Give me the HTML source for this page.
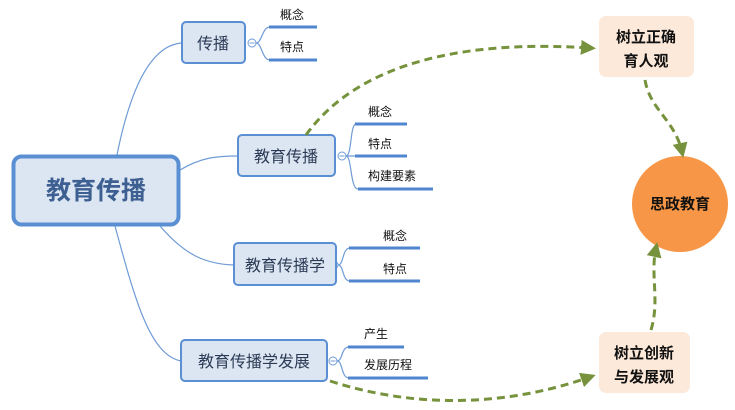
<!DOCTYPE html>
<html><head><meta charset="utf-8"><style>
body{margin:0;background:#fff;}
svg{display:block;font-family:"Liberation Sans","Noto Sans CJK SC",sans-serif;}
</style></head><body>
<svg width="735" height="410" viewBox="0 0 735 410" xmlns="http://www.w3.org/2000/svg">
<defs>
<marker id="ah" markerWidth="5" markerHeight="5" refX="3" refY="2.5" orient="auto" markerUnits="strokeWidth" viewBox="0 0 5 5">
<path d="M0,0 L5,2.5 L0,5 z" fill="#76923c"/>
</marker>
</defs>
<g fill="none" stroke="#6f9bd6" stroke-width="1.2">
<path d="M117,155 C130,90 150,45 182,43"/>
<path d="M180,170 C200,158 215,156 238,156"/>
<path d="M160,226 C185,255 205,264 234,265"/>
<path d="M115,226 C135,300 150,355 181,361"/>
<path d="M256,43 C262,43 262,27 270,27 M256,43 C262,43 262,60 270,60"/>
<path d="M346,156 C352,156 350,124 356,124 M346,156 L356,156 M346,156 C352,156 350,189 358,189"/>
<path d="M338,265 C344,265 342,248 350,248 M338,265 C344,265 342,281 350,281"/>
<path d="M337,361 C343,361 341,347 349,347 M337,361 C343,361 341,378 349,378"/>
</g>
<g stroke="#4f86cf" stroke-width="3">
<line x1="269" y1="27" x2="317" y2="27"/>
<line x1="269" y1="60" x2="317" y2="60"/>
<line x1="355" y1="124" x2="407" y2="124"/>
<line x1="355" y1="156" x2="407" y2="156"/>
<line x1="358" y1="189" x2="433" y2="189"/>
<line x1="349" y1="248" x2="420" y2="248"/>
<line x1="349" y1="281" x2="420" y2="281"/>
<line x1="348" y1="347" x2="404" y2="347"/>
<line x1="348" y1="378" x2="428" y2="378"/>
</g>
<g fill="#fff" stroke="#6f9bd6" stroke-width="1">
<circle cx="252" cy="43" r="4"/><circle cx="342" cy="156" r="4"/>
<circle cx="334" cy="265" r="4"/><circle cx="333" cy="361" r="4"/>
</g>
<g stroke="#6f9bd6" stroke-width="1">
<line x1="249.5" y1="43" x2="254.5" y2="43"/><line x1="339.5" y1="156" x2="344.5" y2="156"/>
<line x1="331.5" y1="265" x2="336.5" y2="265"/><line x1="330.5" y1="361" x2="335.5" y2="361"/>
</g>
<rect x="13.5" y="156.5" width="165" height="68" rx="8" fill="#dce6f2" stroke="#5b8fd3" stroke-width="4"/>
<text x="96" y="199" text-anchor="middle" font-size="25" font-weight="bold" fill="#3d5f91">教育传播</text>
<g fill="#dce6f2" stroke="#5b8fd3" stroke-width="2">
<rect x="182" y="22" width="63" height="41" rx="4"/>
<rect x="238" y="135" width="97" height="41" rx="4"/>
<rect x="234" y="243" width="102" height="42" rx="4"/>
<rect x="181" y="340" width="146" height="41" rx="4"/>
</g>
<g font-size="16" fill="#2b3a55" text-anchor="middle">
<text x="213" y="49">传播</text>
<text x="286" y="162">教育传播</text>
<text x="285" y="271">教育传播学</text>
<text x="254" y="367">教育传播学发展</text>
</g>
<g font-size="12" fill="#111">
<text x="280" y="19">概念</text><text x="280" y="51">特点</text>
<text x="368" y="116">概念</text><text x="368" y="148">特点</text><text x="368" y="180">构建要素</text>
<text x="383" y="240">概念</text><text x="383" y="273">特点</text>
<text x="364" y="338">产生</text><text x="364" y="369">发展历程</text>
</g>
<rect x="599" y="16" width="95" height="61" rx="7" fill="#fde9d9"/>
<rect x="599" y="332" width="91" height="61" rx="7" fill="#fde9d9"/>
<circle cx="680" cy="204" r="48" fill="#f79646"/>
<g font-size="15" font-weight="bold" fill="#111" text-anchor="middle">
<text x="646" y="42">树立正确</text><text x="646" y="66">育人观</text>
<text x="644" y="358">树立创新</text><text x="644" y="382">与发展观</text>
<text x="680" y="209">思政教育</text>
</g>
<g fill="none" stroke="#76923c" stroke-width="3" stroke-dasharray="8,5" marker-end="url(#ah)">
<path d="M306,135 C360,60 470,40 590,48"/>
<path d="M645,80 C650,110 675,120 682,152"/>
<path d="M330,381 C420,410 510,405 590,377"/>
<path d="M651,330 C660,300 650,275 656,248"/>
</g>
</svg>
</body></html>
